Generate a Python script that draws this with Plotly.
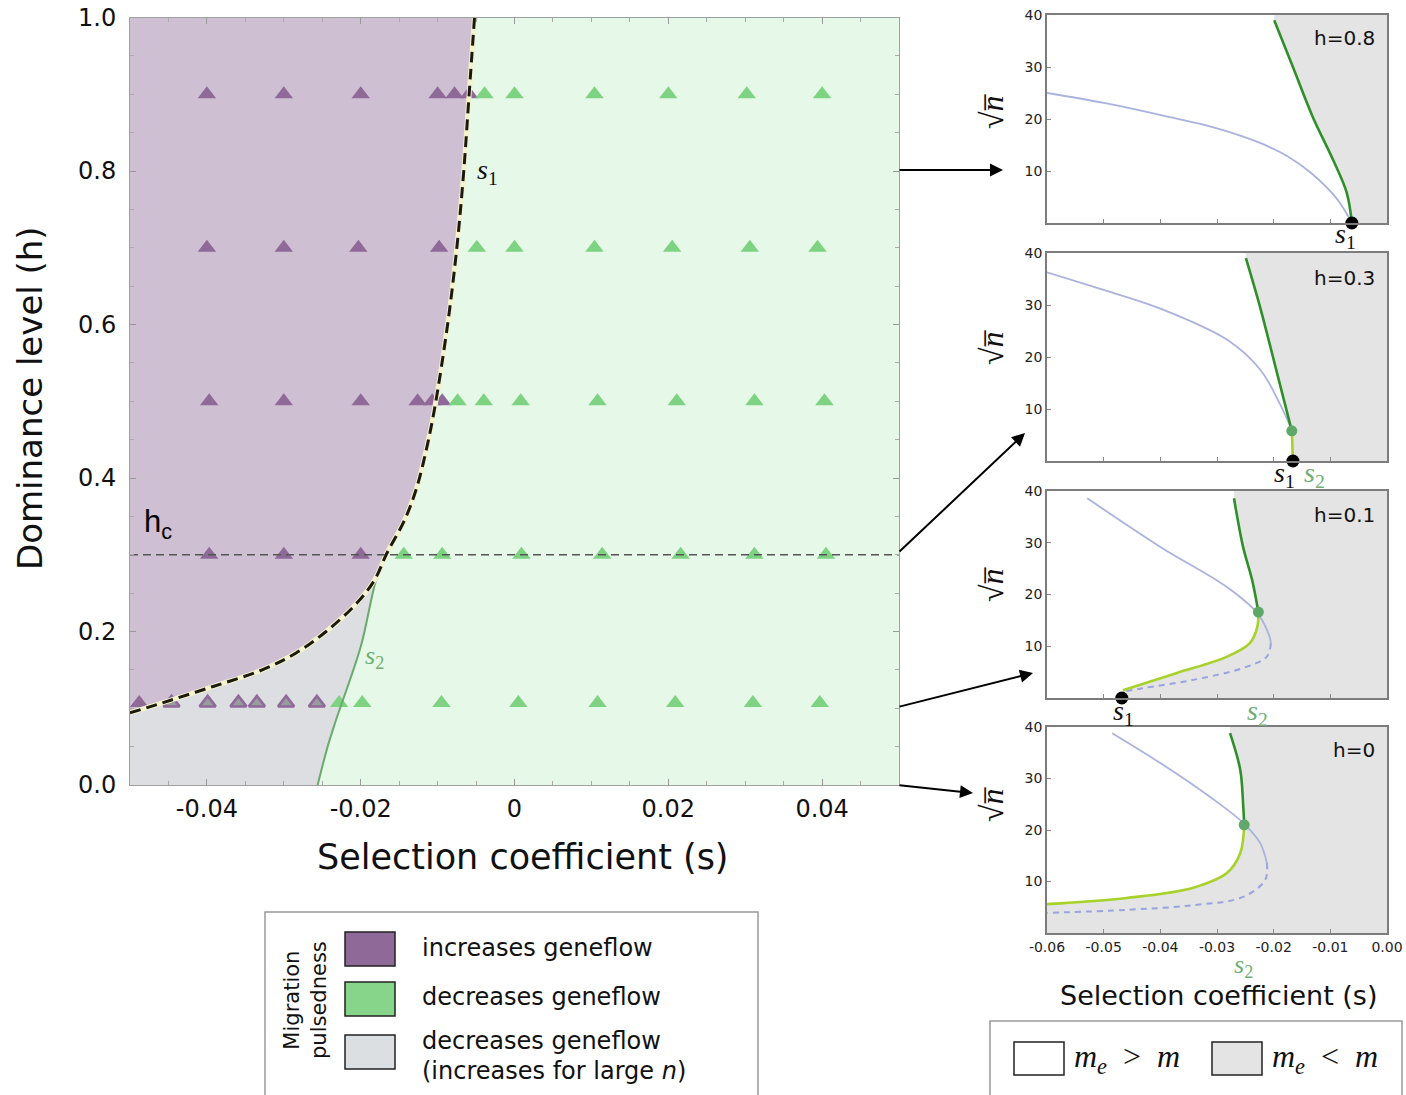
import plotly.graph_objects as go

W, H = 1406, 1095

# ---------------- main panel data ----------------
s1_h = [0.094, 0.107, 0.128, 0.150, 0.172, 0.200, 0.237, 0.267, 0.302, 0.345, 0.388, 0.44, 0.49,
        0.60, 0.70, 0.80, 0.90, 1.00]
s1_s = [-0.0500, -0.0458, -0.0393, -0.0328, -0.0284, -0.0245, -0.0205, -0.0182, -0.0166, -0.0143,
        -0.0127, -0.0114, -0.0104, -0.0087, -0.0075, -0.0066, -0.0059, -0.0052]
s2_h = [0.0, 0.05, 0.085, 0.18, 0.267, 0.302]
s2_s = [-0.0256, -0.0243, -0.0232, -0.0200, -0.0180, -0.0166]
h_c = 0.3

row_h = [0.9, 0.7, 0.5, 0.3, 0.107]
purple_s = [
    [-0.040, -0.030, -0.020, -0.010, -0.0078, -0.0059],
    [-0.040, -0.030, -0.0203, -0.0098],
    [-0.0397, -0.030, -0.020, -0.0126, -0.0107, -0.0094],
    [-0.0397, -0.030, -0.020],
    [-0.0488],
]
green_s = [
    [-0.0039, 0.0, 0.0104, 0.020, 0.0302, 0.040],
    [-0.0049, 0.0, 0.0104, 0.0205, 0.0306, 0.0394],
    [-0.0074, -0.0040, 0.0008, 0.0108, 0.0211, 0.0312, 0.0403],
    [-0.0144, -0.0094, 0.0009, 0.0114, 0.0216, 0.0312, 0.0405],
    [-0.0228, -0.0198, -0.0095, 0.0005, 0.0108, 0.0209, 0.0310, 0.0397],
]
hollow_s = [-0.0446, -0.0399, -0.0359, -0.0335, -0.0297, -0.0257]
hollow_h = 0.107

S_MIN, S_MAX = -0.05, 0.05
H_MIN, H_MAX = 0.0, 1.0

# ---------------- side panels data ----------------
N_MAX = 40
P_S_MIN, P_S_MAX = -0.06, 0.0

p1_blue_s = [-0.0600, -0.0500, -0.0401, -0.0300, -0.0224, -0.0175, -0.0136, -0.0088, -0.0062]
p1_blue_n = [25.0, 23.1, 20.8, 18.2, 15.4, 12.8, 9.8, 4.6, 0.0]
p1_dg_s = [-0.0199, -0.0166, -0.0131, -0.0095, -0.0071, -0.0062]
p1_dg_n = [39.0, 30.0, 20.4, 12.1, 5.8, 0.0]
p1_s1 = -0.0062

p2_blue_s = [-0.0600, -0.0500, -0.0400, -0.0282, -0.0224, -0.0189, -0.0168]
p2_blue_n = [36.3, 32.9, 29.3, 23.3, 17.6, 11.0, 6.0]
p2_dg_s = [-0.0249, -0.0224, -0.0194, -0.0168]
p2_dg_n = [39.0, 29.6, 16.9, 5.8]
p2_yg_s = [-0.0168, -0.0167, -0.0166]
p2_yg_n = [5.8, 3.0, 0.0]
p2_s1 = -0.0166
p2_s2 = (-0.0168, 5.8)

p3_blue_s = [-0.0529, -0.0400, -0.0282, -0.0229, -0.0207, -0.0205]
p3_blue_n = [38.6, 29.2, 21.4, 16.4, 11.8, 10.6]
p3_dash_s = [-0.0205, -0.0212, -0.0254, -0.0342, -0.0431, -0.0466]
p3_dash_n = [10.6, 8.0, 5.8, 3.5, 1.9, 1.2]
p3_yg_s = [-0.0227, -0.0229, -0.0242, -0.0282, -0.0372, -0.0466]
p3_yg_n = [16.6, 13.7, 10.6, 8.0, 4.8, 1.5]
p3_dg_s = [-0.0270, -0.0254, -0.0238, -0.0227]
p3_dg_n = [38.6, 29.2, 22.8, 16.6]
p3_s1 = -0.0468
p3_s2 = (-0.0227, 16.6)

p4_blue_s = [-0.0485, -0.0400, -0.0312, -0.0254, -0.0224, -0.0212]
p4_blue_n = [38.8, 33.0, 26.4, 21.4, 17.5, 13.6]
p4_dash_s = [-0.0212, -0.0215, -0.0254, -0.0342, -0.0459, -0.0600]
p4_dash_n = [13.6, 10.3, 7.0, 5.4, 4.5, 3.9]
p4_yg_s = [-0.0252, -0.0259, -0.0282, -0.0342, -0.0459, -0.0600]
p4_yg_n = [21.0, 15.5, 11.7, 8.8, 6.8, 5.6]
p4_dg_s = [-0.0277, -0.0259, -0.0254, -0.0252]
p4_dg_n = [38.8, 31.7, 25.2, 21.0]
p4_s2 = (-0.0252, 21.0)

panel_labels = ["h=0.8", "h=0.3", "h=0.1", "h=0"]
panel_xticks = [-0.06, -0.05, -0.04, -0.03, -0.02, -0.01, 0.0]
panel_xticktext = ["-0.06", "-0.05", "-0.04", "-0.03", "-0.02", "-0.01", "0.00"]
panel_yticks = [10, 20, 30, 40]

main_xticks = [-0.04, -0.02, 0.0, 0.02, 0.04]
main_xticktext = ["-0.04", "-0.02", "0", "0.02", "0.04"]
main_yticks = [0.0, 0.2, 0.4, 0.6, 0.8, 1.0]
main_yticktext = ["0.0", "0.2", "0.4", "0.6", "0.8", "1.0"]

legend_labels = ["increases geneflow", "decreases geneflow", "decreases geneflow",
                 "(increases for large <i>n</i>)"]

# ---------------- colours ----------------
C_PURPLE_BG = "#cfbfd3"
C_GREEN_BG = "#e6f8e8"
C_GRAY_BG = "#dcdee2"
C_PURPLE_TRI = "#8f6a99"
C_GREEN_TRI = "#7dd381"
C_PANEL_GRAY = "#e4e4e4"
C_BLUE = "#a9b3de"
C_DG = "#2f8f2a"
C_YG = "#a8d22a"
C_DOT_G = "#5fa86a"
C_S2 = "#6fae74"

def PX(x):
    return x / W

def PY(y):
    return 1 - y / H

fig = go.Figure()

# ---------------- main panel ----------------
fig.add_trace(go.Scatter(
    x=[S_MIN] + s1_s + [S_MIN], y=[s1_h[0]] + s1_h + [H_MAX],
    fill="toself", fillcolor=C_PURPLE_BG, mode="none", hoverinfo="skip", showlegend=False,
    xaxis="x", yaxis="y"))
k = max(i for i, h in enumerate(s1_h) if h <= s2_h[-1])
gx = [S_MIN, S_MIN] + s1_s[:k + 1] + s2_s[::-1]
gy = [H_MIN, s1_h[0]] + s1_h[:k + 1] + s2_h[::-1]
fig.add_trace(go.Scatter(x=gx, y=gy, fill="toself", fillcolor=C_GRAY_BG, mode="none",
                         hoverinfo="skip", showlegend=False, xaxis="x", yaxis="y"))

for h, ps, gs in zip(row_h, purple_s, green_s):
    fig.add_trace(go.Scatter(x=ps, y=[h] * len(ps), mode="markers",
                             marker=dict(symbol="triangle-up", size=16, color=C_PURPLE_TRI),
                             showlegend=False, xaxis="x", yaxis="y"))
    fig.add_trace(go.Scatter(x=gs, y=[h] * len(gs), mode="markers",
                             marker=dict(symbol="triangle-up", size=16, color=C_GREEN_TRI),
                             showlegend=False, xaxis="x", yaxis="y"))
fig.add_trace(go.Scatter(x=hollow_s, y=[hollow_h] * len(hollow_s), mode="markers",
                         marker=dict(symbol="triangle-up", size=14, color="#999c9e",
                                     line=dict(color="#8f6a99", width=2.5)),
                         showlegend=False, xaxis="x", yaxis="y"))

fig.add_trace(go.Scatter(x=s2_s, y=s2_h, mode="lines", line=dict(color="#6aaa6e", width=2, shape="spline"),
                         showlegend=False, xaxis="x", yaxis="y"))
fig.add_trace(go.Scatter(x=s1_s, y=s1_h, mode="lines", line=dict(color="#f4f2cf", width=5, shape="spline"),
                         showlegend=False, xaxis="x", yaxis="y"))
fig.add_trace(go.Scatter(x=s1_s, y=s1_h, mode="lines",
                         line=dict(color="#1b1a0c", width=3, dash="11px,6px", shape="spline"),
                         showlegend=False, xaxis="x", yaxis="y"))
fig.add_trace(go.Scatter(x=[S_MIN, S_MAX], y=[h_c, h_c], mode="lines",
                         line=dict(color="#555555", width=1.5, dash="8px,5px"),
                         showlegend=False, xaxis="x", yaxis="y"))

# ---------------- side panels ----------------
def panel(i, blue_s, blue_n, dg_s, dg_n, dash=None, yg=None, gray_poly=None, dots=()):
    xa, ya = f"x{i + 2}", f"y{i + 2}"
    gxs, gys = gray_poly
    fig.add_trace(go.Scatter(x=gxs, y=gys, fill="toself", fillcolor=C_PANEL_GRAY, mode="none",
                             hoverinfo="skip", showlegend=False, xaxis=xa, yaxis=ya))
    fig.add_trace(go.Scatter(x=blue_s, y=blue_n, mode="lines",
                             line=dict(color=C_BLUE, width=1.8, shape="spline"),
                             showlegend=False, xaxis=xa, yaxis=ya))
    if dash is not None:
        fig.add_trace(go.Scatter(x=dash[0], y=dash[1], mode="lines",
                                 line=dict(color="#99a3dc", width=2, dash="6px,5px", shape="spline"),
                                 showlegend=False, xaxis=xa, yaxis=ya))
    if yg is not None:
        fig.add_trace(go.Scatter(x=yg[0], y=yg[1], mode="lines",
                                 line=dict(color=C_YG, width=2.6, shape="spline"),
                                 showlegend=False, xaxis=xa, yaxis=ya))
    fig.add_trace(go.Scatter(x=dg_s, y=dg_n, mode="lines",
                             line=dict(color=C_DG, width=2.6, shape="spline"),
                             showlegend=False, xaxis=xa, yaxis=ya))
    for (ds, dn, col, sz) in dots:
        fig.add_trace(go.Scatter(x=[ds], y=[dn], mode="markers",
                                 marker=dict(color=col, size=sz), cliponaxis=False,
                                 showlegend=False, xaxis=xa, yaxis=ya))

panel(0, p1_blue_s, p1_blue_n, p1_dg_s, p1_dg_n,
      gray_poly=([p1_dg_s[0]] + p1_dg_s + [P_S_MAX, P_S_MAX], [N_MAX] + p1_dg_n + [0, N_MAX]),
      dots=[(p1_s1, 0, "black", 13)])
panel(1, p2_blue_s, p2_blue_n, p2_dg_s, p2_dg_n, yg=(p2_yg_s, p2_yg_n),
      gray_poly=([p2_dg_s[0]] + p2_dg_s + [p2_s1, P_S_MAX, P_S_MAX], [N_MAX] + p2_dg_n + [0, 0, N_MAX]),
      dots=[(p2_s2[0], p2_s2[1], C_DOT_G, 11), (p2_s1, 0, "black", 13)])
panel(2, p3_blue_s, p3_blue_n, p3_dg_s, p3_dg_n, dash=(p3_dash_s, p3_dash_n), yg=(p3_yg_s, p3_yg_n),
      gray_poly=([p3_dg_s[0]] + p3_dg_s + p3_yg_s + [p3_s1, P_S_MAX, P_S_MAX],
                 [N_MAX] + p3_dg_n + p3_yg_n + [0, 0, N_MAX]),
      dots=[(p3_s2[0], p3_s2[1], C_DOT_G, 11), (p3_s1, 0, "black", 13)])
panel(3, p4_blue_s, p4_blue_n, p4_dg_s, p4_dg_n, dash=(p4_dash_s, p4_dash_n), yg=(p4_yg_s, p4_yg_n),
      gray_poly=([p4_dg_s[0]] + p4_dg_s + p4_yg_s + [P_S_MIN, P_S_MAX, P_S_MAX],
                 [N_MAX] + p4_dg_n + p4_yg_n + [0, 0, N_MAX]),
      dots=[(p4_s2[0], p4_s2[1], C_DOT_G, 11)])

# ---------------- layout / axes ----------------
FONT = "DejaVu Sans"
layout = dict(
    width=W, height=H, margin=dict(l=0, r=0, t=0, b=0, autoexpand=False),
    paper_bgcolor="white", plot_bgcolor="white", showlegend=False,
    font=dict(family=FONT, color="#111"),
)
layout["xaxis"] = dict(domain=[PX(130), PX(899)], range=[S_MIN, S_MAX], anchor="y", automargin=False,
                       tickvals=main_xticks, ticktext=main_xticktext, ticks="inside", ticklen=6,
                       tickcolor="#999", showline=True, linecolor="#a0a0a0", linewidth=1, mirror="ticks",
                       showgrid=False, zeroline=False, tickfont=dict(size=24, color="#111"),
                       ticklabelstandoff=2,
                       minor=dict(dtick=0.005, tick0=0, ticks="inside", ticklen=4, tickcolor="#aaa", showgrid=False))
layout["yaxis"] = dict(domain=[PY(785), PY(17.5)], range=[H_MIN, H_MAX], anchor="x", automargin=False,
                       tickvals=main_yticks, ticktext=main_yticktext, ticks="inside", ticklen=6,
                       tickcolor="#999", showline=True, linecolor="#a0a0a0", linewidth=1, mirror="ticks",
                       showgrid=False, zeroline=False, tickfont=dict(size=24, color="#111"),
                       ticklabelstandoff=8,
                       minor=dict(dtick=0.05, tick0=0, ticks="inside", ticklen=4, tickcolor="#aaa", showgrid=False))

panel_tops = [15, 253, 491, 727]
panel_bots = [223, 461, 698, 933]
for i in range(4):
    xa, ya = f"xaxis{i + 2}", f"yaxis{i + 2}"
    layout[xa] = dict(domain=[PX(1047), PX(1387)], range=[P_S_MIN, P_S_MAX], anchor=f"y{i + 2}",
                      automargin=False, tickvals=panel_xticks, ticktext=panel_xticktext,
                      showticklabels=(i == 3),
                      ticks="inside", ticklen=4, tickcolor="#888", showline=True, linecolor="#7c7c7c",
                      linewidth=1.5, mirror=True, showgrid=False, zeroline=False,
                      tickfont=dict(size=14, color="#222"), ticklabelstandoff=0)
    layout[ya] = dict(domain=[PY(panel_bots[i]), PY(panel_tops[i])], range=[0, N_MAX], anchor=f"x{i + 2}",
                      automargin=False, tickvals=panel_yticks, ticks="inside", ticklen=4, tickcolor="#888",
                      showline=True, linecolor="#7c7c7c", linewidth=1.5, mirror=True, showgrid=False,
                      zeroline=False, tickfont=dict(size=14, color="#222"))

shapes = [dict(type="rect", xref="x", yref="y", x0=S_MIN, x1=S_MAX, y0=H_MIN, y1=H_MAX,
               fillcolor=C_GREEN_BG, line=dict(width=0), layer="below")]

shapes.append(dict(type="rect", xref="paper", yref="paper", x0=PX(265), x1=PX(758), y0=PY(1110), y1=PY(912),
                   fillcolor="white", line=dict(color="#9a9a9a", width=1.5)))
sw_cols = [C_PURPLE_TRI, "#86d58a", "#dcdfe2"]
sw_tops = [932, 982, 1035]
for c, t in zip(sw_cols, sw_tops):
    shapes.append(dict(type="rect", xref="paper", yref="paper", x0=PX(345), x1=PX(395), y0=PY(t + 34), y1=PY(t),
                       fillcolor=c, line=dict(color="#222", width=1.5)))
shapes.append(dict(type="rect", xref="paper", yref="paper", x0=PX(990), x1=PX(1402), y0=PY(1110), y1=PY(1021),
                   fillcolor="white", line=dict(color="#9a9a9a", width=1.5)))
for c, l in zip(["white", C_PANEL_GRAY], [1014, 1212]):
    shapes.append(dict(type="rect", xref="paper", yref="paper", x0=PX(l), x1=PX(l + 50), y0=PY(1075), y1=PY(1042),
                       fillcolor=c, line=dict(color="#222", width=1.5)))
layout["shapes"] = shapes

ann = []
def T(x, y, text, size, color="#111", family=FONT, xanchor="center", angle=0, yanchor="middle"):
    ann.append(dict(x=PX(x), y=PY(y), xref="paper", yref="paper", text=text, showarrow=False,
                    xanchor=xanchor, yanchor=yanchor, textangle=angle,
                    font=dict(size=size, color=color, family=family)))

SERIF = "Liberation Serif"
T(30, 398, "Dominance level (h)", 34, angle=-90)
T(523, 857, "Selection coefficient (s)", 35)
T(158, 524, "h<sub>c</sub>", 31, family="Liberation Sans", color="#000")
T(487, 172, "<i>s</i><sub>1</sub>", 28, family=SERIF, color="#111")
T(374, 657, "<i>s</i><sub>2</sub>", 26, family=SERIF, color=C_S2)

sq_y = [112, 348, 585, 805]
lab_y = [38, 278, 515, 750]
for i in range(4):
    T(992, sq_y[i], "√<i>n̅</i>", 32, family=SERIF, angle=-90)
    T(1377, lab_y[i], panel_labels[i], 20, xanchor="right")
T(1345, 236, "<i>s</i><sub>1</sub>", 28, family=SERIF)
T(1284, 474, "<i>s</i><sub>1</sub>", 28, family=SERIF)
T(1314, 474, "<i>s</i><sub>2</sub>", 28, family=SERIF, color=C_S2)
T(1123, 712, "<i>s</i><sub>1</sub>", 28, family=SERIF)
T(1257, 712, "<i>s</i><sub>2</sub>", 28, family=SERIF, color=C_S2)
T(1243, 966, "<i>s</i><sub>2</sub>", 26, family=SERIF, color=C_S2)
T(1218, 995, "Selection coefficient (s)", 27)

T(305, 1000, "Migration<br>pulsedness", 21, angle=-90)
T(420, 948, legend_labels[0], 24, xanchor="left")
T(420, 997, legend_labels[1], 24, xanchor="left")
T(420, 1041, legend_labels[2], 24, xanchor="left")
T(420, 1071, legend_labels[3], 24, xanchor="left")
T(1072, 1058, "<i>m</i><sub><i>e</i></sub>\u2002&gt;\u2002<i>m</i>", 32, family=SERIF, xanchor="left")
T(1270, 1058, "<i>m</i><sub><i>e</i></sub>\u2002&lt;\u2002<i>m</i>", 32, family=SERIF, xanchor="left")

arrows = [((1003, 170), (898, 170)), ((1025, 433), (898, 553)), ((1033, 673), (898, 707)), ((973, 793), (898, 785))]
for (hx, hy), (tx, ty) in arrows:
    ann.append(dict(x=PX(hx), y=PY(hy), xref="paper", yref="paper", ax=tx - hx, ay=ty - hy,
                    showarrow=True, arrowhead=2, arrowsize=1.3, arrowwidth=2, arrowcolor="black", text=""))
layout["annotations"] = ann

fig.update_layout(**layout)
fig.write_html("out.html", config={"displayModeBar": False},
               post_script="document.body.style.margin='0px';document.body.style.overflow='hidden';")
